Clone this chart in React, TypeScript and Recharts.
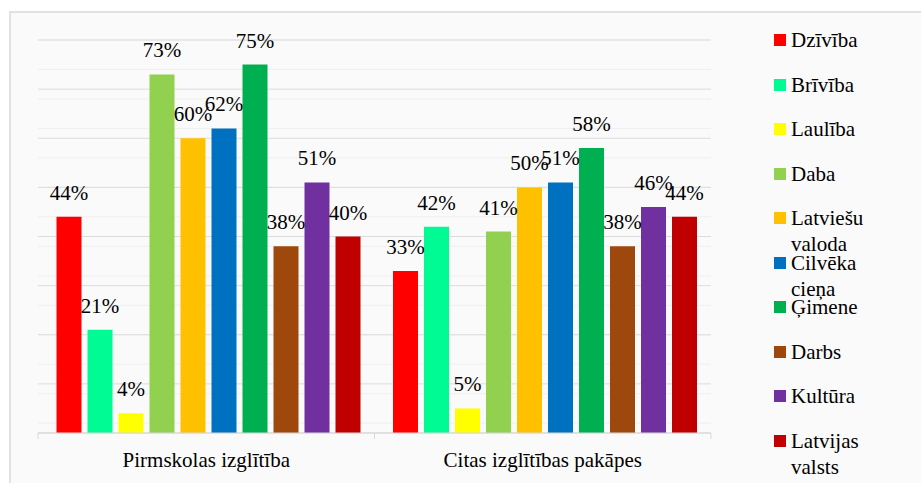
import React from 'react';
import { BarChart, Bar, XAxis, YAxis, CartesianGrid, Legend, LabelList } from 'recharts';

const categories = ['Pirmskolas izglītība', 'Citas izglītības pakāpes'];
const seriesNames = ['Dzīvība', 'Brīvība', 'Laulība', 'Daba', 'Latviešu valoda', 'Cilvēka cieņa', 'Ģimene', 'Darbs', 'Kultūra', 'Latvijas valsts'];
const seriesColors = ['#FF0000', '#00FA94', '#FFFF00', '#92D050', '#FFC000', '#0070C0', '#00B050', '#9E480E', '#7030A0', '#C00000'];
const preschoolValues = [44, 21, 4, 73, 60, 62, 75, 38, 51, 40];
const otherLevelValues = [33, 42, 5, 41, 50, 51, 58, 38, 46, 44];
const majorTicks = [0, 10, 20, 30, 40, 50, 60, 70, 80];
const minorTicks = [0, 2, 4, 6, 8, 10, 12, 14, 16, 18, 20, 22, 24, 26, 28, 30, 32, 34, 36, 38, 40, 42, 44, 46, 48, 50, 52, 54, 56, 58, 60, 62, 64, 66, 68, 70, 72, 74, 76, 78, 80];

const valueLists = [preschoolValues, otherLevelValues];
const data = categories.map((cat, ci) => {
  const row: Record<string, any> = { category: cat };
  seriesNames.forEach((s, si) => {
    row['s' + si] = valueLists[ci][si];
  });
  return row;
});

const FONT = '"Liberation Serif", "Times New Roman", serif';
const FS = 21;

const CategoryTick = (props: any) => {
  const { x, y, payload } = props;
  const half = payload && typeof payload.offset === 'number' && payload.offset > 0 ? payload.offset : 168.25;
  const axisY = y - 6;
  return (
    <g>
      <line x1={x - half} x2={x - half} y1={axisY} y2={axisY + 6} stroke="#D9D9D9" strokeWidth={1} />
      <line x1={x + half} x2={x + half} y1={axisY} y2={axisY + 6} stroke="#D9D9D9" strokeWidth={1} />
      <text x={x} y={axisY + 34} textAnchor="middle" fill="#000" fontSize={FS} fontFamily={FONT}>
        {payload.value}
      </text>
    </g>
  );
};

const LegendContent = () => (
  <div style={{ fontFamily: FONT, fontSize: FS, color: '#000' }}>
    {seriesNames.map((name, i) => (
      <div key={name} style={{ height: 44.5, display: 'flex', alignItems: 'flex-start', overflow: 'visible' }}>
        <div style={{ width: 12, height: 12, background: seriesColors[i], marginTop: 7, marginRight: 5, flex: '0 0 12px' }} />
        <div style={{ width: 100, lineHeight: '26px', whiteSpace: 'normal' }}>{name}</div>
      </div>
    ))}
  </div>
);

export default function App() {
  return (
    <div style={{ position: 'absolute', left: 0, top: 0, width: 921, height: 483, background: '#FFFFFF', overflow: 'hidden' }}>
      <div style={{ position: 'absolute', left: 9, top: 11, width: 940, height: 500, background: '#FAFAFA', border: '2px solid #E2E2E2' }} />
      <div style={{ position: 'absolute', left: 0, top: 0 }}>
        <BarChart
          width={921}
          height={483}
          data={data}
          margin={{ top: 40, left: 38, right: 210, bottom: 20 }}
          barCategoryGap="5.5%"
          barGap={6}
        >
          <YAxis yAxisId="minor" hide domain={[0, 80]} ticks={minorTicks} type="number" allowDataOverflow />
          <YAxis yAxisId="major" hide domain={[0, 80]} ticks={majorTicks} type="number" allowDataOverflow />
          <CartesianGrid yAxisId="minor" vertical={false} stroke="#EFEFEF" strokeWidth={1} />
          <CartesianGrid yAxisId="major" vertical={false} stroke="#DCDCDC" strokeWidth={1} />
          <XAxis
            dataKey="category"
            height={30}
            tickSize={6}
            tickMargin={0}
            tickLine={false}
            axisLine={{ stroke: '#D9D9D9', strokeWidth: 1 }}
            tick={<CategoryTick />}
            interval={0}
          />
          <Legend
            layout="vertical"
            align="center"
            verticalAlign="middle"
            content={<LegendContent />}
            wrapperStyle={{ position: 'absolute', left: 774, top: 27, width: 140, height: 450 }}
          />
          {seriesNames.map((name, i) => (
            <Bar key={name} yAxisId="major" dataKey={'s' + i} name={name} fill={seriesColors[i]} isAnimationActive={false}>
              <LabelList
                dataKey={'s' + i}
                position="top"
                offset={17}
                formatter={(v: any) => `${v}%`}
                style={{ fontFamily: FONT, fontSize: FS, fill: '#000' }}
              />
            </Bar>
          ))}
        </BarChart>
      </div>
    </div>
  );
}
